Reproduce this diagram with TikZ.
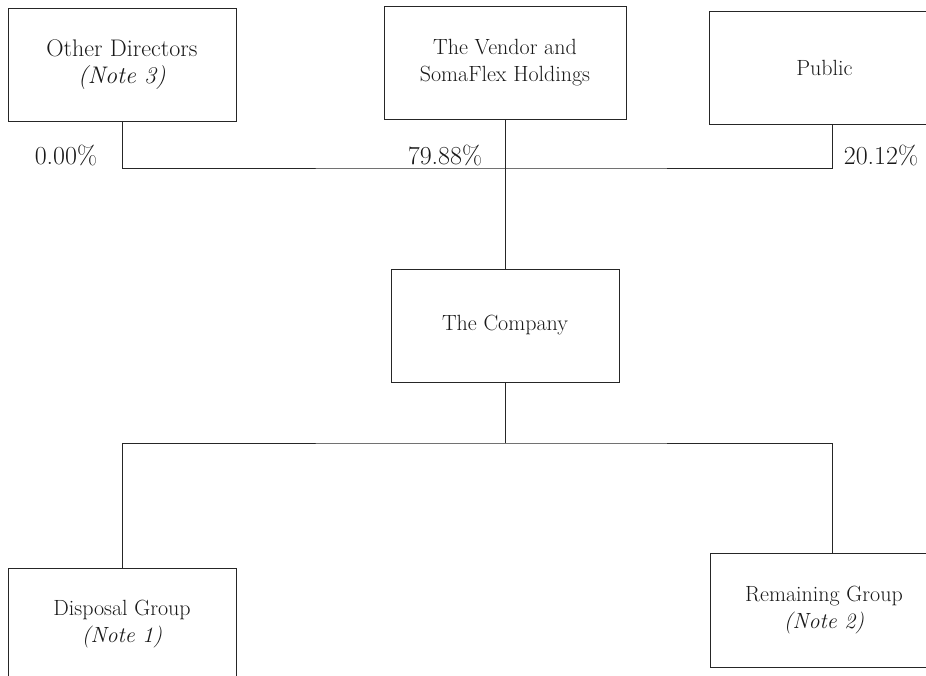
\documentclass[tikz,border=0pt]{standalone}
\begin{document}
\begin{tikzpicture}[x=1pt,y=-1pt,
  box/.style={draw=black!85, line width=0.9pt, inner sep=0pt, align=center,
    font=\fontsize{22}{27}\selectfont, text=black!90},
  pct/.style={inner sep=0pt, font=\fontsize{26}{30}\selectfont, text=black!90},
  conn/.style={draw=black!85, line width=0.9pt}]
\useasboundingbox (0,0) rectangle (926,676);
% boxes
\node[box, minimum width=228pt, minimum height=113pt, font=\fontsize{24}{27}\selectfont] (od) at (122,64.5)
  {Other Directors\\\textit{(Note 3)}};
\node[box, minimum width=242pt, minimum height=113pt] (ven) at (505,62.5)
  {The Vendor and\\SomaFlex Holdings};
\node[box, minimum width=231pt, minimum height=113pt] (pub) at (824.5,67.5) {Public};
\node[box, minimum width=228pt, minimum height=113pt] (co) at (505,325.5) {The Company};
\node[box, minimum width=228pt, minimum height=113pt] (dis) at (122,624.5)
  {Disposal Group\\\textit{(Note 1)}};
\node[box, minimum width=228pt, minimum height=114pt] (rem) at (824,610)
  {Remaining Group\\\textit{(Note 2)}};
% junctions
\coordinate (bus1) at (505,168);
\coordinate (bus2) at (505,443);
\coordinate (pubstem) at ([xshift=7.5pt]pub.south);
\coordinate (remstem) at ([xshift=8pt]rem.north);
% connectors
\draw[conn] (od.south) |- (bus1) -| (pubstem);
\draw[conn] (ven.south) -- (co.north);
\draw[conn] (co.south) -- (bus2);
\draw[conn] (dis.north) |- (bus2) -| (remstem);
% percentages
\node[pct] (p1) at (66,155) {0.00\%};
\node[pct] (p2) at (445,155) {79.88\%};
\node[pct] (p3) at (881,155) {20.12\%};
\end{tikzpicture}
\end{document}
